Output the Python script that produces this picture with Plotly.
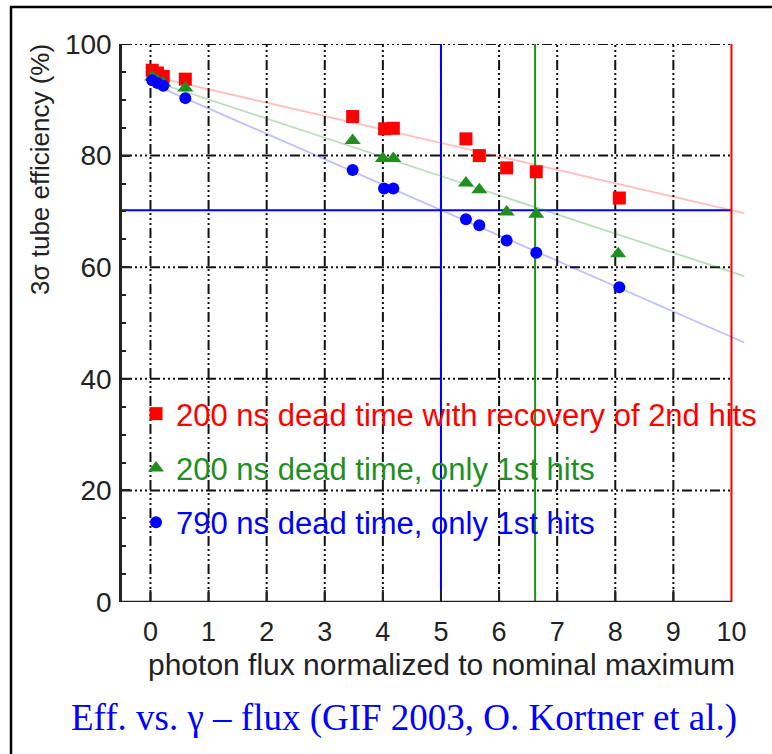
import plotly.graph_objects as go

# ---------------- data ----------------
red_x = [0.03, 0.12, 0.22, 0.6, 3.48, 4.03, 4.18, 5.43, 5.66, 6.13, 6.64, 8.07]
red_y = [95.3, 94.8, 94.2, 93.7, 87.0, 84.8, 84.9, 83.0, 80.0, 77.8, 77.1, 72.4]
green_x = [0.03, 0.12, 0.22, 0.6, 3.48, 4.0, 4.18, 5.43, 5.66, 6.13, 6.64, 8.05]
green_y = [94.1, 93.5, 93.0, 92.1, 82.7, 79.5, 79.5, 75.1, 73.9, 69.9, 69.5, 62.4]
blue_x = [0.03, 0.12, 0.22, 0.6, 3.48, 4.02, 4.18, 5.43, 5.66, 6.13, 6.64, 8.07]
blue_y = [93.5, 93.0, 92.5, 90.3, 77.4, 74.1, 74.1, 68.6, 67.5, 64.8, 62.6, 56.4]

# straight-line fits (start / end values)
fit_x = [0.0, 10.22]
red_fit_y = [94.3, 69.7]
green_fit_y = [93.5, 58.4]
blue_fit_y = [93.0, 46.5]

names = ["200 ns dead time with recovery of 2nd hits",
         "200 ns dead time, only 1st hits",
         "790 ns dead time, only 1st hits"]

x_ticks = [0, 1, 2, 3, 4, 5, 6, 7, 8, 9, 10]
y_ticks = [0, 20, 40, 60, 80, 100]
x_grid = [0, 1, 2, 3, 4, 5, 6, 7, 8, 9]
y_grid = [20, 40, 60, 80, 100]
ref_vlines = [(5.0, "#0000ff"), (6.62, "#1f8f1f"), (10.0, "#ff0000")]
ref_hline = 70.2

RED, GREEN, BLUE = "#ff0000", "#1f8f1f", "#0000ff"

# ---------------- geometry ----------------
W, H = 772, 754
L, R, T, B = 122, 26, 44, 152
XR = [-0.49, 10.25]
YR = [0, 100]
pw, ph = W - L - R, H - T - B


def px(xp):
    return (xp - L) / pw


def py(yp):
    return (H - B - yp) / ph


fig = go.Figure()

# fit lines
for fy, col in [(red_fit_y, "rgba(255,0,0,0.25)"),
                (green_fit_y, "rgba(31,143,31,0.3)"),
                (blue_fit_y, "rgba(0,0,255,0.25)")]:
    fig.add_trace(go.Scatter(x=fit_x, y=fy, mode="lines",
                             line=dict(color=col, width=1.8),
                             showlegend=False, hoverinfo="skip"))

# data markers
for xs, ys, col, sym, sz, nm, grp in [
        (red_x, red_y, RED, "square", 13, names[0], "a"),
        (green_x, green_y, GREEN, "triangle-up", 14, names[1], "b"),
        (blue_x, blue_y, BLUE, "circle", 12, names[2], "c")]:
    fig.add_trace(go.Scatter(
        x=xs, y=ys, mode="markers",
        marker=dict(color=col, symbol=sym, size=sz, line=dict(width=0)),
        name="<span style='color:%s'>%s</span>" % (col, nm),
        legendgroup=grp))

shapes = []
GRID_DASH = "10px,3px,2px,3px,2px,3px,2px,3px"
for gx in x_grid:
    shapes.append(dict(type="line", xref="x", yref="y", x0=gx, x1=gx, y0=0, y1=100,
                       line=dict(color="#111111", width=2, dash=GRID_DASH), layer="below"))
for gy in y_grid:
    shapes.append(dict(type="line", xref="x", yref="y", x0=XR[0], x1=10, y0=gy, y1=gy,
                       line=dict(color="#111111", width=2, dash=GRID_DASH), layer="below"))
# reference lines
shapes.append(dict(type="line", xref="x", yref="y", x0=XR[0], x1=10, y0=ref_hline, y1=ref_hline,
                   line=dict(color=BLUE, width=2), layer="below"))
for vx, vc in ref_vlines:
    shapes.append(dict(type="line", xref="x", yref="y", x0=vx, x1=vx, y0=0, y1=100,
                       line=dict(color=vc, width=2), layer="below"))
# bottom axis line (to x = 10)
shapes.append(dict(type="line", xref="x", yref="y", x0=XR[0], x1=10, y0=0, y1=0,
                   line=dict(color="#222222", width=2.5)))
# x tick marks inside
for tx in x_ticks[:-1]:
    shapes.append(dict(type="line", xref="x", yref="paper", x0=tx, x1=tx, y0=0, y1=py(H - B - 12),
                       line=dict(color="#222222", width=2)))
# outer frame
shapes.append(dict(type="rect", xref="paper", yref="paper",
                   x0=px(11), x1=px(W + 20), y0=py(7), y1=py(H + 20),
                   line=dict(color="black", width=2.5)))

annotations = [
    dict(text="photon flux normalized to nominal maximum", xref="paper", yref="paper",
         x=px(441), y=py(664), showarrow=False, xanchor="center", yanchor="middle",
         font=dict(family="Liberation Sans, Arial", size=30, color="#222222")),
    dict(text="3σ tube efficiency (%)", xref="paper", yref="paper",
         x=px(40), y=py(170), showarrow=False, xanchor="center", yanchor="middle", textangle=-90,
         font=dict(family="Liberation Sans, Arial", size=26, color="#222222")),
    dict(text="Eff. vs. γ – flux (GIF 2003, O. Kortner et al.)", xref="paper", yref="paper",
         x=px(404), y=py(718), showarrow=False, xanchor="center", yanchor="middle",
         font=dict(family="Liberation Serif, Times New Roman", size=37, color="#0000ff")),
]

fig.update_layout(
    width=W, height=H,
    margin=dict(l=L, r=R, t=T, b=B, pad=0, autoexpand=False),
    paper_bgcolor="white", plot_bgcolor="white",
    shapes=shapes, annotations=annotations,
    showlegend=True,
    legend=dict(x=px(136), y=py(387), xanchor="left", yanchor="top",
                bgcolor="rgba(0,0,0,0)", borderwidth=0,
                font=dict(family="Liberation Sans, Arial", size=31),
                tracegroupgap=11, itemwidth=30),
    xaxis=dict(range=XR, showgrid=False, zeroline=False, showline=False,
               tickmode="array", tickvals=x_ticks, ticks="",
               ticklabelstandoff=11,
               tickfont=dict(family="Liberation Sans, Arial", size=27, color="#222222")),
    yaxis=dict(range=YR, showgrid=False, zeroline=False, showline=True,
               linecolor="#222222", linewidth=2.5,
               tickmode="array", tickvals=y_ticks, ticks="inside", ticklen=8,
               tickwidth=2, tickcolor="#222222", ticklabelstandoff=2,
               minor=dict(dtick=5, ticks="inside", ticklen=4, tickwidth=2, tickcolor="#222222"),
               tickfont=dict(family="Liberation Sans, Arial", size=28, color="#222222")),
)

fig.write_html("out.html")
